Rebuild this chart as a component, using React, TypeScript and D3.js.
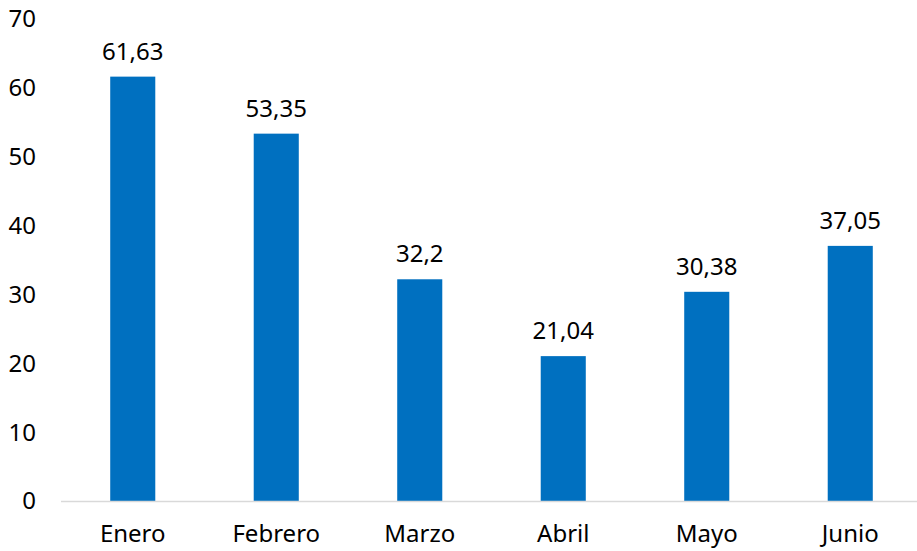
import React, { useEffect, useRef } from "react";
import * as d3 from "d3";

const months = ["Enero", "Febrero", "Marzo", "Abril", "Mayo", "Junio"];
const values = [61.63, 53.35, 32.2, 21.04, 30.38, 37.05];
const valueLabels = ["61,63", "53,35", "32,2", "21,04", "30,38", "37,05"];
const yTicks = [0, 10, 20, 30, 40, 50, 60, 70];

const W = 917;
const H = 551;
const FONT = "'Noto Sans', 'Open Sans', sans-serif";

const App = () => {
  const svgRef = useRef<SVGSVGElement>(null);

  useEffect(() => {
    const svg = d3.select(svgRef.current);
    svg.selectAll("*").remove();

    const x = d3
      .scaleBand()
      .domain(months)
      .range([61, 922])
      .paddingInner(0.686)
      .paddingOuter(0.343);

    const y = d3.scaleLinear().domain([0, 70]).range([501, 19]);

    // y tick labels
    svg
      .append("g")
      .selectAll("text")
      .data(yTicks)
      .enter()
      .append("text")
      .attr("x", 36)
      .attr("y", d => y(d))
      .attr("dy", "0.35em")
      .attr("text-anchor", "end")
      .attr("font-family", FONT)
      .attr("font-size", 24)
      .attr("fill", "#000")
      .text(d => d);

    // bars
    svg
      .append("g")
      .selectAll("rect")
      .data(values)
      .enter()
      .append("rect")
      .attr("x", (d, i) => x(months[i]))
      .attr("y", d => y(d))
      .attr("width", x.bandwidth())
      .attr("height", d => y(0) - y(d))
      .attr("fill", "#0070C0");

    // value labels
    svg
      .append("g")
      .selectAll("text")
      .data(values)
      .enter()
      .append("text")
      .attr("x", (d, i) => x(months[i]) + x.bandwidth() / 2)
      .attr("y", d => y(d) - 17)
      .attr("text-anchor", "middle")
      .attr("font-family", FONT)
      .attr("font-size", 24)
      .attr("fill", "#000")
      .text((d, i) => valueLabels[i]);

    // x axis line
    svg
      .append("line")
      .attr("x1", 61)
      .attr("x2", W)
      .attr("y1", y(0) + 0.5)
      .attr("y2", y(0) + 0.5)
      .attr("stroke", "#d9d9d9")
      .attr("stroke-width", 1.5);

    // x labels
    svg
      .append("g")
      .selectAll("text")
      .data(months)
      .enter()
      .append("text")
      .attr("x", d => x(d) + x.bandwidth() / 2)
      .attr("y", 542)
      .attr("text-anchor", "middle")
      .attr("font-family", FONT)
      .attr("font-size", 24)
      .attr("fill", "#000")
      .text(d => d);
  }, []);

  return (
    <svg
      ref={svgRef}
      width={W}
      height={H}
      style={{ position: "absolute", left: 0, top: 0, background: "#fff" }}
    />
  );
};

export default App;
